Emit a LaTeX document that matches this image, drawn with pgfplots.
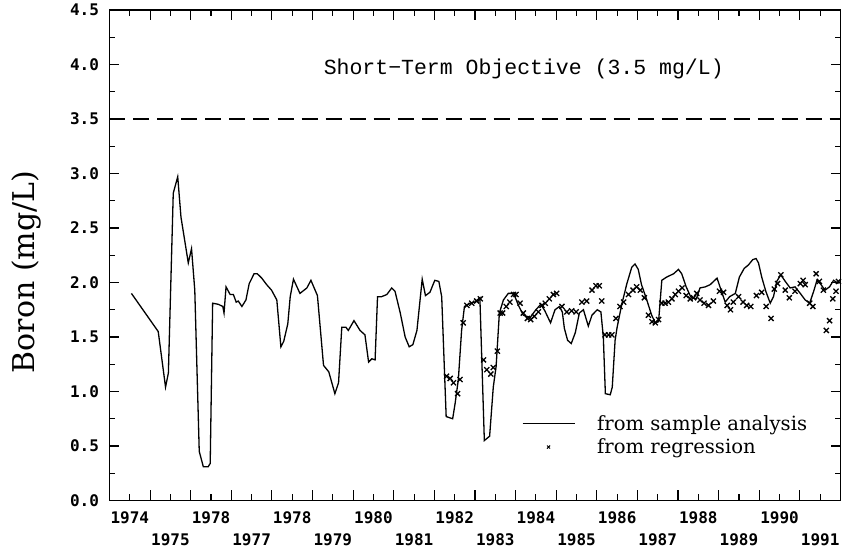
\documentclass[border=0pt]{standalone}
\usepackage{fontspec}
\usepackage{pgfplots}
\pgfplotsset{compat=1.18}
\setmainfont{DejaVu Serif}
\newfontfamily\tickfont{DejaVu Sans Mono}
\newfontfamily\titlefont{Liberation Mono}
\newcommand{\lo}[1]{\raisebox{-21.5bp}{#1}}
\begin{document}
\begin{tikzpicture}
\begin{axis}[
  scale only axis, width=731bp, height=490.5bp,
  xmin=1974, xmax=1992, ymin=0, ymax=4.5,
  axis line style={line width=1.6bp},
  every tick/.style={black, line width=1.1bp},
  major tick length=10bp, minor tick length=6bp,
  tick align=inside,
  xtick={1975,...,1991}, xticklabels={},
  minor xtick={1974.5,1975.5,...,1991.5},
  extra x ticks={1974.5,1975.5,...,1991.5},
  extra x tick labels={1974,\lo{1975},1978,\lo{1977},1978,\lo{1979},1980,\lo{1981},1982,\lo{1983},1984,\lo{1985},1986,\lo{1987},1988,\lo{1989},1990,\lo{1991}},
  extra x tick style={major tick length=0pt},
  xticklabel style={font=\tickfont\bfseries\fontsize{16bp}{18bp}\selectfont, text height=11.7bp, text depth=0pt, yshift=-8bp},
  ytick={0,0.5,...,4.5}, minor y tick num=1,
  yticklabel style={font=\tickfont\bfseries\fontsize{16bp}{18bp}\selectfont, xshift=-7bp},
  /pgf/number format/assume math mode=true,
  yticklabel={\pgfmathprintnumber[fixed,fixed zerofill,precision=1]{\tick}},
  ylabel={Boron (mg/L)},
  ylabel style={font=\fontsize{30bp}{33bp}\selectfont, at={(axis description cs:-0.114,0.466)}, anchor=center},
  legend style={at={(axis cs:1984.15,0.80)}, anchor=north west, draw=none, fill=none,
    font=\fontsize{19.6bp}{23bp}\selectfont, row sep=3bp, inner sep=0pt, column sep=20bp,
    nodes={inner sep=2bp}},
  legend cell align=left,
  clip=false,
]
\addplot[black, line width=1.5bp, dash pattern=on 16bp off 8bp, forget plot] coordinates {(1974,3.5) (1992,3.5)};
\node[font=\titlefont\fontsize{21.5bp}{24bp}\selectfont, anchor=base] at (axis cs:1984.2,3.91) {Short−Term Objective (3.5 mg/L)};
\addplot[black, line width=1.3bp, sharp plot, mark=none,
  legend image code/.code={\draw[black, line width=1.3bp] (0bp,0bp) -- (52bp,0bp);}] table {
1974.54 1.90
1975.20 1.55
1975.38 1.04
1975.45 1.17
1975.57 2.82
1975.68 2.97
1975.76 2.60
1975.94 2.18
1976.02 2.31
1976.10 1.93
1976.21 0.45
1976.31 0.31
1976.43 0.31
1976.48 0.34
1976.54 1.81
1976.68 1.80
1976.79 1.78
1976.82 1.72
1976.87 1.96
1976.97 1.89
1977.05 1.89
1977.12 1.82
1977.17 1.83
1977.26 1.78
1977.36 1.84
1977.44 1.99
1977.56 2.08
1977.64 2.08
1977.75 2.04
1977.87 1.98
1977.99 1.93
1978.12 1.84
1978.22 1.41
1978.29 1.46
1978.39 1.62
1978.45 1.87
1978.53 2.03
1978.69 1.90
1978.86 1.95
1978.96 2.02
1979.12 1.88
1979.27 1.24
1979.40 1.18
1979.55 0.98
1979.64 1.08
1979.72 1.59
1979.82 1.59
1979.88 1.56
1980.02 1.65
1980.17 1.56
1980.29 1.52
1980.38 1.27
1980.46 1.30
1980.54 1.29
1980.60 1.87
1980.70 1.87
1980.83 1.89
1980.95 1.95
1981.03 1.92
1981.16 1.72
1981.28 1.50
1981.38 1.41
1981.47 1.43
1981.57 1.56
1981.70 2.03
1981.78 1.88
1981.89 1.91
1982.01 2.02
1982.11 2.01
1982.18 1.87
1982.29 0.77
1982.45 0.75
1982.51 0.89
1982.59 1.11
1982.67 1.56
1982.74 1.78
1982.88 1.81
1983.00 1.82
1983.12 1.86
1983.23 0.55
1983.36 0.59
1983.45 1.04
1983.52 1.23
1983.60 1.72
1983.70 1.84
1983.82 1.90
1983.95 1.90
1984.07 1.79
1984.19 1.70
1984.36 1.68
1984.50 1.75
1984.62 1.80
1984.72 1.74
1984.86 1.63
1984.97 1.75
1985.08 1.78
1985.15 1.73
1985.20 1.58
1985.28 1.47
1985.37 1.44
1985.47 1.54
1985.57 1.72
1985.67 1.75
1985.79 1.60
1985.88 1.70
1986.01 1.75
1986.10 1.73
1986.16 1.50
1986.21 0.98
1986.33 0.97
1986.38 1.04
1986.45 1.47
1986.50 1.59
1986.62 1.81
1986.74 1.99
1986.86 2.14
1986.94 2.17
1987.02 2.12
1987.10 1.98
1987.23 1.84
1987.35 1.70
1987.44 1.63
1987.52 1.64
1987.60 2.02
1987.72 2.05
1987.89 2.08
1988.01 2.12
1988.09 2.08
1988.20 1.96
1988.31 1.87
1988.45 1.85
1988.54 1.95
1988.67 1.96
1988.79 1.98
1988.96 2.04
1989.06 1.93
1989.16 1.82
1989.27 1.87
1989.41 1.90
1989.51 2.05
1989.63 2.13
1989.73 2.16
1989.84 2.21
1989.92 2.22
1989.98 2.18
1990.06 2.05
1990.16 1.92
1990.27 1.81
1990.35 1.87
1990.43 2.01
1990.53 2.07
1990.64 2.01
1990.76 1.95
1990.88 1.96
1991.01 1.90
1991.13 1.84
1991.24 1.81
1991.34 1.92
1991.42 2.02
1991.50 1.99
1991.62 1.93
1991.73 1.96
1991.83 2.02
1991.95 1.99
};
\addlegendentry{from sample analysis}
\addplot[black, only marks, mark=x, mark options={scale=1.8, line width=1.3bp},
  legend image code/.code={\draw[black, line width=1bp] plot[mark=x, mark options={scale=1.1}] coordinates {(26bp,0bp)};}] table {
1982.30 1.14
1982.39 1.12
1982.47 1.08
1982.57 0.98
1982.63 1.11
1982.71 1.63
1982.80 1.79
1982.92 1.81
1983.04 1.83
1983.13 1.85
1983.21 1.29
1983.29 1.20
1983.39 1.16
1983.45 1.22
1983.55 1.37
1983.62 1.72
1983.68 1.72
1983.77 1.78
1983.86 1.82
1983.95 1.89
1984.01 1.89
1984.11 1.81
1984.19 1.72
1984.29 1.67
1984.37 1.66
1984.46 1.69
1984.56 1.73
1984.65 1.79
1984.73 1.81
1984.83 1.85
1984.93 1.89
1985.01 1.90
1985.14 1.78
1985.26 1.73
1985.38 1.74
1985.49 1.73
1985.63 1.82
1985.75 1.83
1985.88 1.93
1985.98 1.97
1986.06 1.97
1986.12 1.83
1986.20 1.52
1986.29 1.52
1986.37 1.52
1986.47 1.67
1986.57 1.78
1986.66 1.82
1986.78 1.89
1986.89 1.93
1986.98 1.96
1987.07 1.93
1987.17 1.86
1987.27 1.70
1987.36 1.64
1987.44 1.63
1987.52 1.66
1987.60 1.81
1987.68 1.81
1987.76 1.82
1987.85 1.85
1987.93 1.89
1988.01 1.92
1988.10 1.95
1988.20 1.88
1988.30 1.85
1988.38 1.86
1988.46 1.90
1988.54 1.84
1988.64 1.81
1988.75 1.79
1988.87 1.83
1989.02 1.92
1989.12 1.91
1989.21 1.79
1989.29 1.75
1989.36 1.82
1989.49 1.87
1989.60 1.82
1989.69 1.79
1989.79 1.78
1989.93 1.88
1990.06 1.91
1990.17 1.78
1990.29 1.67
1990.37 1.94
1990.45 1.99
1990.53 2.07
1990.64 1.93
1990.74 1.86
1990.88 1.92
1991.01 1.99
1991.08 2.02
1991.13 1.98
1991.24 1.81
1991.32 1.78
1991.40 2.08
1991.48 2.01
1991.58 1.93
1991.65 1.56
1991.73 1.65
1991.81 1.85
1991.89 1.92
1991.95 2.01
};
\addlegendentry{from regression}
\end{axis}
\pgfresetboundingbox
\path (current axis.south west) ++(-109.5bp,-48.5bp) rectangle ++(849bp,549bp);
\end{tikzpicture}
\end{document}
